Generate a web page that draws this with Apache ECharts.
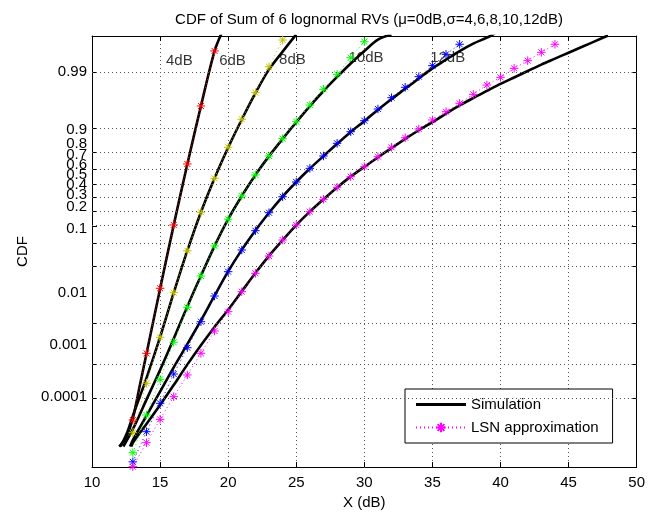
<!DOCTYPE html>
<html><head><meta charset="utf-8">
<script src="https://cdn.jsdelivr.net/npm/echarts@6/dist/echarts.min.js"></script>
<style>html,body{margin:0;padding:0;background:#fff}#c{width:648px;height:515px}</style>
</head><body><div id="c"></div>
<script>
// ---- data (CDF values) ----
const yTickValues = [0.0001,0.001,0.01,0.1,0.2,0.3,0.4,0.5,0.6,0.7,0.8,0.9,0.99];
const yTickLabels = ['0.0001','0.001','0.01','0.1','0.2','0.3','0.4','0.5','0.6','0.7','0.8','0.9','0.99'];
const xMin = 10, xMax = 50, xStep = 5;
const yMinZ = -5, yMaxZ = 3;

// Simulation (black)
const xSim4 = [12.0,12.5,13,13.5,14,15,16,17,18,19,19.6];
const pSim4 = [1.92e-6,4.29e-6,2.07e-5,2.33e-4,0.001866,0.0455,0.305,0.7324,0.9554,0.99674,0.99903];
const xSim6 = [12.1,12.6,13,14,15,16,17,18,19,20,21,22,23,24,25];
const pSim6 = [1.92e-6,6.8e-6,2.56e-5,4.04e-4,0.0048,0.0384,0.1623,0.3936,0.6406,0.8238,0.9265,0.9738,0.99134,0.99664,0.99878];
const xSim8 = [12.3,13,14,15,16,17,18,19,20,21,22,23,24,25,26,27,28,29,30,31,32];
const pSim8 = [1.92e-6,8.54e-6,8.84e-5,6.87e-4,0.0044,0.0217,0.0735,0.1841,0.3446,0.512,0.6628,0.7794,0.8621,0.9192,0.9554,0.9761,0.98745,0.99361,0.99674,0.99831,0.99878];
const xSim10 = [12.8,13,14,15,16,17,18,19,20,21,22,23,24,25,26,27,28,29,30,31,32,33,34,35,36,37,38,39,39.6];
const pSim10 = [1.92e-6,3.4e-6,2.56e-5,1.591e-4,8.16e-4,0.003264,0.0113,0.03438,0.08534,0.166,0.2709,0.3897,0.508,0.6141,0.7054,0.7794,0.8413,0.8888,0.9222,0.9484,0.9664,0.97831,0.98645,0.9918,0.99477,0.99674,0.99788,0.99851,0.99886];
const xSim12 = [12.9,13,14,15,16,17,18,19,20,21,22,23,24,25,26,27,28,29,30,31,32,33,34,35,36,37,38,39,40,41,42,43,44,45,46,47,47.9];
const pSim12 = [1.92e-6,2.68e-6,1.335e-5,5.91e-5,2.51e-4,9.68e-4,0.003072,0.0082,0.01876,0.04093,0.08076,0.1401,0.2148,0.305,0.3974,0.488,0.5753,0.6517,0.7157,0.7734,0.8212,0.8621,0.8944,0.9192,0.9406,0.9564,0.9678,0.97615,0.98257,0.98713,0.99061,0.99324,0.99506,0.99643,0.99744,0.99819,0.99869];

// LSN approximation (markers at integer dB)
const xLSN4 = [13,14,15,16,17,18,19];
const pLSN4 = [1.83e-5,0.00193,0.0462,0.306,0.734,0.9555,0.99676];
const xLSN6 = [13,14,15,16,17,18,19,20,21,22,23,24];
const pLSN6 = [6.4e-6,2.85e-4,0.00476,0.0388,0.162,0.393,0.640,0.825,0.927,0.9743,0.99245,0.99828];
const xLSN8 = [13,14,15,16,17,18,19,20,21,22,23,24,25,26,27,28,29,30];
const pLSN8 = [1.1e-6,2.73e-5,3.73e-4,0.00363,0.0209,0.0728,0.185,0.344,0.512,0.663,0.780,0.863,0.9206,0.9572,0.97784,0.98896,0.9953,0.9981];
const xLSN10 = [13,14,15,16,17,18,19,20,21,22,23,24,25,26,27,28,29,30,31,32,33,34,35,36,37];
const pLSN10 = [4.7e-7,6.97e-6,6.73e-5,5.30e-4,0.00267,0.01064,0.0339,0.0846,0.1655,0.2696,0.3897,0.5068,0.6141,0.7068,0.7802,0.8433,0.8895,0.9234,0.9500,0.9682,0.97972,0.98762,0.99284,0.99609,0.99779];
const xLSN12 = [13,14,15,16,17,18,19,20,21,22,23,24,25,26,27,28,29,30,31,32,33,34,35,36,37,38,39,40,41,42,43,44];
const pLSN12 = [2.96e-7,2.69e-6,1.94e-5,1.10e-4,4.97e-4,0.00193,0.00664,0.01713,0.0404,0.0800,0.1392,0.2157,0.3057,0.3970,0.4876,0.5761,0.6510,0.7170,0.7764,0.8248,0.8669,0.8987,0.9252,0.9446,0.9600,0.9724,0.98169,0.98722,0.99180,0.99449,0.99650,0.99779];

// curve annotations
const annoText = ['4dB','6dB','8dB','10dB','12dB'];
const annoX = [15.4,19.3,23.7,28.8,34.8];
const annoP = [0.9945,0.9945,0.9948,0.9952,0.9953];

const titleText = 'CDF of Sum of 6 lognormal RVs (\u03bc=0dB,\u03c3=4,6,8,10,12dB)';
const xName = 'X (dB)', yName = 'CDF';

// ---- normal-probability scale ----
function probit(p){
  const a=[-3.969683028665376e+01,2.209460984245205e+02,-2.759285104469687e+02,1.383577518672690e+02,-3.066479806614716e+01,2.506628277459239e+00];
  const b=[-5.447609879822406e+01,1.615858368580409e+02,-1.556989798598866e+02,6.680131188771972e+01,-1.328068155288572e+01];
  const c=[-7.784894002430293e-03,-3.223964580411365e-01,-2.400758277161838e+00,-2.549732539343734e+00,4.374664141464968e+00,2.938163982698783e+00];
  const d=[7.784695709041462e-03,3.224671290700398e-01,2.445134137142996e+00,3.754408661907416e+00];
  const pl=0.02425, ph=1-pl; let q,r;
  if(p<pl){q=Math.sqrt(-2*Math.log(p));return (((((c[0]*q+c[1])*q+c[2])*q+c[3])*q+c[4])*q+c[5])/((((d[0]*q+d[1])*q+d[2])*q+d[3])*q+1);}
  if(p<=ph){q=p-0.5;r=q*q;return (((((a[0]*r+a[1])*r+a[2])*r+a[3])*r+a[4])*r+a[5])*q/(((((b[0]*r+b[1])*r+b[2])*r+b[3])*r+b[4])*r+1);}
  q=Math.sqrt(-2*Math.log(1-p));return -(((((c[0]*q+c[1])*q+c[2])*q+c[3])*q+c[4])*q+c[5])/((((d[0]*q+d[1])*q+d[2])*q+d[3])*q+1);
}
const yTickZ = yTickValues.map(probit);
// tick-label anchor heights as printed in the source figure (axis units)
const yLabelAt = [-3.701,-2.735,-1.770,-0.582,-0.174,0.049,0.244,0.420,0.606,0.791,0.995,1.255,2.326];
function zLabel(v){let bi=0,bd=1e9;yLabelAt.forEach((z,i)=>{const dd=Math.abs(z-v);if(dd<bd){bd=dd;bi=i;}});return yTickLabels[bi];}
const pairs = (xs,ps)=>xs.map((x,i)=>[x,probit(ps[i])]);

const FONT = '"Liberation Sans", Arial, Helvetica, sans-serif';
const STAR = 'path://M0,-10L0,10M-10,0L10,0M-7,-7L7,7M-7,7L7,-7';
const LEGEND_BAR = 'path://M0,0L0.01,0M0,4.6L50,4.6L50,7.4L0,7.4ZM0,12L0.01,12';
const dotStyle = {color:'#555', width:1, type:[1,3]};

function simSeries(xs,ps){
  return {type:'line', name:'Simulation', data:pairs(xs,ps), showSymbol:false, symbol:'none', smooth:0.3,
    lineStyle:{color:'#000', width:2.6}, itemStyle:{color:'#000'}, z:3, clip:true, silent:true};
}
function lsnSeries(name,col,xs,ps){
  return {type:'line', name:name, data:pairs(xs,ps), symbol:STAR, symbolSize:8.5, showSymbol:true,
    lineStyle:{color:col, width:1, type:[1,3]}, itemStyle:{color:col, borderColor:col, borderWidth:1},
    z:4, clip:true, silent:true};
}
const axisLineStyle = {show:true, onZero:false, lineStyle:{color:'#000', width:1}};

const chart = echarts.init(document.getElementById('c'), null, {renderer:'canvas'});
chart.setOption({
  animation:false,
  backgroundColor:'#fff',
  textStyle:{fontFamily:FONT},
  title:{text:titleText, left:364, top:7, textAlign:'center',
    textStyle:{fontSize:15, fontWeight:'normal', color:'#000', fontFamily:FONT}},
  grid:{left:92, right:11, top:36, bottom:48},
  legend:{data:[{name:'Simulation', icon:LEGEND_BAR, itemStyle:{color:'#000'}},{name:'LSN approximation'}],
    orient:'vertical', left:405, top:389,
    itemWidth:50, itemHeight:12, itemGap:8, padding:[8,14,8,10],
    borderColor:'#000', borderWidth:1, backgroundColor:'#fff', borderRadius:0,
    textStyle:{fontSize:15, color:'#000', fontFamily:FONT}, selectedMode:false},
  xAxis:[
    {type:'value', min:xMin, max:xMax, interval:xStep, position:'bottom',
     name:xName, nameLocation:'middle', nameGap:18, nameTextStyle:{fontSize:15, color:'#000', fontFamily:FONT},
     axisLine:axisLineStyle,
     axisTick:{show:true, inside:true, length:5, lineStyle:{color:'#000'}},
     axisLabel:{fontSize:15, color:'#000', margin:8, fontFamily:FONT},
     splitLine:{show:true, lineStyle:dotStyle}},
    {type:'value', min:xMin, max:xMax, interval:xStep, position:'top',
     axisLine:axisLineStyle,
     axisTick:{show:true, inside:true, length:5, lineStyle:{color:'#000'}},
     axisLabel:{show:false}, splitLine:{show:false}}
  ],
  yAxis:[
    {type:'value', min:yMinZ, max:yMaxZ, position:'left',
     name:yName, nameLocation:'middle', nameGap:62, nameRotate:90, nameTextStyle:{fontSize:15, color:'#000', fontFamily:FONT},
     axisLine:axisLineStyle,
     axisTick:{show:true, inside:true, length:5, lineStyle:{color:'#000'}, customValues:yTickZ},
     axisLabel:{fontSize:15, color:'#000', margin:5, fontFamily:FONT, customValues:yLabelAt, formatter:zLabel},
     splitLine:{show:false}},
    {type:'value', min:yMinZ, max:yMaxZ, position:'right',
     axisLine:axisLineStyle,
     axisTick:{show:true, inside:true, length:5, lineStyle:{color:'#000'}, customValues:yTickZ},
     axisLabel:{show:false}, splitLine:{show:false}}
  ],
  series:[
    {type:'scatter', name:'anno', data:annoX.map((x,i)=>({value:[x,probit(annoP[i])], name:annoText[i]})),
     symbolSize:1, itemStyle:{color:'rgba(0,0,0,0)'}, z:1, silent:true,
     label:{show:true, position:'right', distance:0, formatter:'{b}', fontSize:15, color:'#000', fontFamily:FONT},
     markLine:{silent:true, symbol:'none', label:{show:false}, lineStyle:dotStyle, emphasis:{disabled:true},
       data:yTickZ.map(z=>({yAxis:z}))}},
    simSeries(xSim4,pSim4), simSeries(xSim6,pSim6), simSeries(xSim8,pSim8), simSeries(xSim10,pSim10), simSeries(xSim12,pSim12),
    lsnSeries('LSN 4dB','#ff0000',xLSN4,pLSN4),
    lsnSeries('LSN 6dB','#bfbf00',xLSN6,pLSN6),
    lsnSeries('LSN 8dB','#00ff00',xLSN8,pLSN8),
    lsnSeries('LSN 10dB','#0000ff',xLSN10,pLSN10),
    lsnSeries('LSN approximation','#ff00ff',xLSN12,pLSN12)
  ]
});
</script></body></html>
